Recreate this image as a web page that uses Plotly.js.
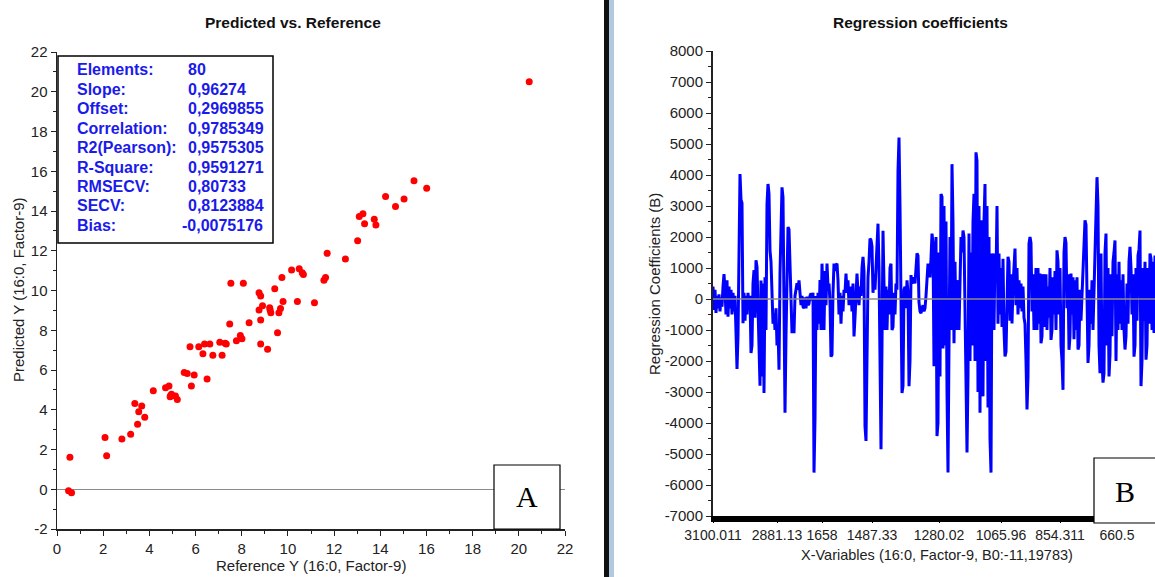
<!DOCTYPE html>
<html>
<head>
<meta charset="utf-8">
<script src="https://cdn.plot.ly/plotly-3.0.1.min.js"></script>
<style>
html,body{margin:0;padding:0;background:#fff;overflow:hidden}
#chart{width:1155px;height:577px}
</style>
</head>
<body>
<div id="chart"></div>
<script>
// ---------- Data: Predicted vs. Reference ----------
const referenceY = [0.56,0.50,0.63,2.08,2.15,2.81,3.19,3.37,3.49,3.54,3.67,3.80,4.17,4.70,4.85,4.90,4.92,4.96,5.13,5.21,
  5.51,5.64,5.76,5.82,5.94,6.14,6.32,6.39,6.50,6.62,6.75,7.05,7.15,7.28,7.33,7.48,7.53,7.77,7.94,8.01,
  8.07,8.32,8.75,8.82,8.75,8.82,8.82,8.90,9.12,9.21,9.23,9.26,9.43,9.55,9.61,9.68,9.74,9.79,10.16,10.41,
  10.49,10.62,10.67,11.15,11.56,11.63,11.70,12.49,13.02,13.09,13.25,13.32,13.74,13.81,14.23,14.66,15.03,15.46,16.01,20.45];
const predictedY = [1.61,-0.07,-0.17,2.61,1.68,2.53,2.77,4.32,3.27,3.90,4.19,3.62,4.96,5.11,5.20,4.66,4.72,4.78,4.69,4.52,
  5.88,5.83,7.17,5.20,5.75,7.17,6.82,7.31,5.55,7.31,6.74,7.39,6.74,7.34,7.31,8.31,10.36,7.47,7.74,7.57,
  10.36,8.38,9.89,9.72,9.02,8.51,7.31,9.23,7.04,9.13,9.02,8.88,10.09,7.88,8.88,9.10,10.66,9.45,11.03,9.45,
  11.09,10.89,10.81,9.38,10.52,10.66,11.87,11.58,12.50,13.72,13.86,13.36,13.59,13.30,14.73,14.23,14.60,15.52,15.15,20.50];
const leftTickVals = [-2,0,2,4,6,8,10,12,14,16,18,20,22];
const leftTickText = ['-2','0','2','4','6','8','10','12','14','16','18','20','22'];
const statLabels = ['Elements:','Slope:','Offset:','Correlation:','R2(Pearson):','R-Square:','RMSECV:','SECV:','Bias:'];
const statValues = ['80','0,96274','0,2969855','0,9785349','0,9575305','0,9591271','0,80733','0,8123884','-0,0075176'];

// ---------- Data: Regression coefficients ----------
const coefficients = [
  400,-350,300,-450, 100,-300,150,-400,50,-250, 400,800,300, -500,600,-570,400,-300, 300,-500,200,
  -400,100,-1500, -2260,-1200, 2900,4030,3200, 3100,-780,200, -700,100,-500, 200,-200,100, -1740,-1500,
  500,930,-600, 1250,1040,-400, -1500,-2800,600, -2500,500,-3030,700, -1000,3070,3710,3390, 1570,1200,-200,
  -800,-460,-1000, -300,-1500,-900,-2280, 820,2500,3600, 3280,600,-3670, -1200,800,2320,2250,1200,
  -200,-1100,-600, -1100,100,400, 510,300,600,200,-200,100,-250, -300,50,-300,80,-200,-150,100,
  180,-50,200, -5600,-3880,100, -1000,200,-800,610, -1000,1140,300,-1000,900, -200,1140,400,500,-100,
  -1860,-1800,200,1140,900, 1100,1140,600,-500,200, -800,100,-400,300,200, 820,200,600,-200,400,
  300,-400,500,-1210, -600,500,820,200, -200,400,100,1000,1360, 900,-4100,-4580,-2000,700,
  1200,1950,1900,1700, 200,800,300,1140,2210,2430, 1000,-2500,-4850, -1500,2200,500, -1000,400,-1000,
  300,-500,1000,1140,-1000, -900,200,-500,500,300, 4140,5210,3000, 600,-3030,-2800,300,
  400,-300,600,200,-2810, -2000,770,500,600, 700,500,1000,1470,1400, -100,-400,-460,-300,-200,-400,-300,100,
  500,1140,900,700,1300,2110,1800, -2170,-1500,2000,-4420,-4000, 1500,-2500,3390,3300,
  -1600,3000,-1500,2500,-3000,-5600, -1500,2000,-1000,4350, 2500,-1430,1200,-1000,600,500,
  -1000,1000,2000,1500,2210, 2000,-1000,-3000,-4950, -2500,2110,-2000,1500, -1500,2500,3390,-2000,4730,
  4460,-3000,3000,-3670, 2540,-2500,-3140, 2500,3710,-2000,3000,-3500, 2000,-4500,-5600,1470,
  1000,-1000,1470,600, 3000,-800,1470,-500, 1000,-900,1300,-1000,-1850, -1700,500,1360,1200,-700,
  800,-790,400,1200,1630, -200,1000,-500,600,-300, 500,-400,400,-600,-800, -2000,-3560,-2500,
  1790,2000,1800,-400, 800,-1000,600,1000,-1000, 1000,-800,820,-1430,-1200, 800,200,-900,800,-1000,
  400,-600,1000,-1320,-1000, 700,-500,900,-1000,1570, 1200,-500,1000,-1500,-2000, -2930,1500,2000,
  1800,-300,800,-1640,-1200, 820,-500,700,-1300,600, -1000,700,-1630,-1500,300, -700,200,800,1500,2540,
  2400,-1000,-2060,-1500,300, -800,600,-1000,500,1000, 2960,3930,3000,-1500,-2390, 1470,-2000,-2700,-2400,1500,
  2110,-1500,1000,-2500,-1800, 800,-1200,1200,1500,1890, -2000,800,-1000,1200,-800, 600,-1000,800,-1000,-1630,
  -1200,500,-800,1200,1680, 1000,-500,800,-1860,-1500, 1000,-700,1400,1600,2210, -2810,-2000,1000,-700,1200,
  -1960,-1500,1000,-800,1470, 1300,-1000,1200,-1100,1400
];
const variableIndex = coefficients.map((_, i) => i);
const xTickIndex = [0,64,109,159,226,288,347,404];
const xTickText = ['3100.011','2881.13','1658','1487.33','1280.02','1065.96','854.311','660.5'];
const rightTickVals = [-7000,-6000,-5000,-4000,-3000,-2000,-1000,0,1000,2000,3000,4000,5000,6000,7000,8000];
const rightTickText = ['-7000','-6000','-5000','-4000','-3000','-2000','-1000','0','1000','2000','3000','4000','5000','6000','7000','8000'];

// ---------- Layout helpers ----------
const W = 1155, H = 577;
const px = x => x / W;
const py = y => 1 - y / H;
const SANS = 'Liberation Sans, Arial, sans-serif';
const SERIF = 'Liberation Serif, Times New Roman, serif';
const TXT = '#222';

const traces = [
  {x: referenceY, y: predictedY, xaxis: 'x', yaxis: 'y', type: 'scatter', mode: 'markers',
   marker: {color: '#ff0000', size: 7}, hoverinfo: 'skip'},
  {x: variableIndex, y: coefficients, xaxis: 'x2', yaxis: 'y2', type: 'scatter', mode: 'lines',
   line: {color: '#0000ff', width: 3}, hoverinfo: 'skip'}
];

const annotations = [];
function ann(text, x, y, opts) {
  annotations.push(Object.assign({text: text, x: px(x), y: py(y), xref: 'paper', yref: 'paper',
    showarrow: false, xanchor: 'center', yanchor: 'middle',
    font: {family: SANS, size: 15, color: TXT}}, opts || {}));
}
ann('Predicted vs. Reference', 293, 22, {font: {family: SANS, size: 15.5, color: '#111', weight: 700}});
ann('Regression coefficients', 920, 22, {font: {family: SANS, size: 15.5, color: '#111', weight: 700}});
ann('Reference Y (16:0, Factor-9)', 311, 565);
ann('Predicted Y (16:0, Factor-9)', 18, 290, {textangle: -90});
ann('X-Variables (16:0, Factor-9, B0:-11,19783)', 937, 555, {font: {family: SANS, size: 14.5, color: TXT}});
ann('Regression Coefficients (B)', 654, 284, {textangle: -90});
statLabels.forEach((s, i) => {
  ann(s, 75, 70 + 19.4 * i, {xanchor: 'left', font: {family: SANS, size: 16, color: '#1a1aeb', weight: 700}});
  ann(statValues[i], statValues[i].startsWith('-') ? 180 : 186, 70 + 19.4 * i,
      {xanchor: 'left', font: {family: SANS, size: 16, color: '#1a1aeb', weight: 700}});
});
ann('A', 527, 497, {font: {family: SERIF, size: 30, color: '#000'}});
ann('B', 1125, 491, {font: {family: SERIF, size: 30, color: '#000'}});

const shapes = [
  // zero line drawn over the coefficient curve
  {type: 'line', xref: 'x2 domain', yref: 'y2', x0: 0, x1: 1, y0: 0, y1: 0,
   line: {color: '#8c8c8c', width: 1.5}, layer: 'above'},
  // stats box
  {type: 'rect', xref: 'paper', yref: 'paper', x0: px(58), x1: px(273), y0: py(243), y1: py(56),
   line: {color: '#000', width: 1.5}, fillcolor: '#fff', layer: 'above'},
  // panel separator
  {type: 'rect', xref: 'paper', yref: 'paper', x0: px(604), x1: px(609), y0: 0, y1: 1,
   line: {width: 0}, fillcolor: '#111'},
  {type: 'rect', xref: 'paper', yref: 'paper', x0: px(609), x1: px(614), y0: 0, y1: 1,
   line: {width: 0}, fillcolor: '#b3c9e0'},
  // A and B boxes
  {type: 'rect', xref: 'paper', yref: 'paper', x0: px(494), x1: px(560), y0: py(529), y1: py(465),
   line: {color: '#000', width: 1.2}, fillcolor: '#fff', layer: 'above'},
  {type: 'rect', xref: 'paper', yref: 'paper', x0: px(1094), x1: px(1160), y0: py(523), y1: py(458),
   line: {color: '#000', width: 1.2}, fillcolor: '#fff', layer: 'above'}
];

const tickFont = {family: SANS, size: 15, color: TXT};
const layout = {
  width: W, height: H, margin: {l: 0, r: 0, t: 0, b: 0},
  paper_bgcolor: '#fff', plot_bgcolor: '#fff', showlegend: false,
  font: {family: SANS, size: 15, color: TXT},
  xaxis: {domain: [px(57), px(565)], range: [0, 22], anchor: 'y',
    tickvals: leftTickVals, ticktext: leftTickText, tickfont: tickFont, tickangle: 0,
    ticks: 'outside', ticklen: 5, tickwidth: 1, tickcolor: '#222',
    minor: {dtick: 1, tick0: 0, ticks: 'outside', ticklen: 3, tickcolor: '#222', showgrid: false},
    showline: true, linecolor: '#222', linewidth: 1.5, showgrid: false, zeroline: false, fixedrange: true},
  yaxis: {domain: [py(529), py(52)], range: [-2, 22], anchor: 'x',
    tickvals: leftTickVals, ticktext: leftTickText, tickfont: tickFont,
    ticks: 'outside', ticklen: 5, tickwidth: 1, tickcolor: '#222',
    minor: {dtick: 1, tick0: 0, ticks: 'outside', ticklen: 3, tickcolor: '#222', showgrid: false},
    showline: true, linecolor: '#222', linewidth: 1.5, showgrid: false,
    zeroline: true, zerolinecolor: '#8c8c8c', zerolinewidth: 1.2, fixedrange: true},
  xaxis2: {domain: [px(713), 1], range: [0, 442], anchor: 'y2',
    tickvals: xTickIndex, ticktext: xTickText, tickfont: {family: SANS, size: 14, color: TXT},
    tickangle: 0, ticks: 'outside', ticklen: 1, tickcolor: '#000',
    showline: true, linecolor: '#000', linewidth: 6, showgrid: false, zeroline: false, fixedrange: true},
  yaxis2: {domain: [py(516), py(51)], range: [-7000, 8000], anchor: 'x2',
    tickvals: rightTickVals, ticktext: rightTickText, tickfont: tickFont,
    ticks: 'outside', ticklen: 5, tickwidth: 1, tickcolor: '#222',
    minor: {dtick: 500, tick0: 0, ticks: 'outside', ticklen: 3, tickcolor: '#222', showgrid: false},
    showline: true, linecolor: '#222', linewidth: 2, showgrid: false,
    zeroline: false, fixedrange: true},
  annotations: annotations,
  shapes: shapes
};

Plotly.newPlot('chart', traces, layout, {staticPlot: true, displayModeBar: false});
</script>
</body>
</html>
